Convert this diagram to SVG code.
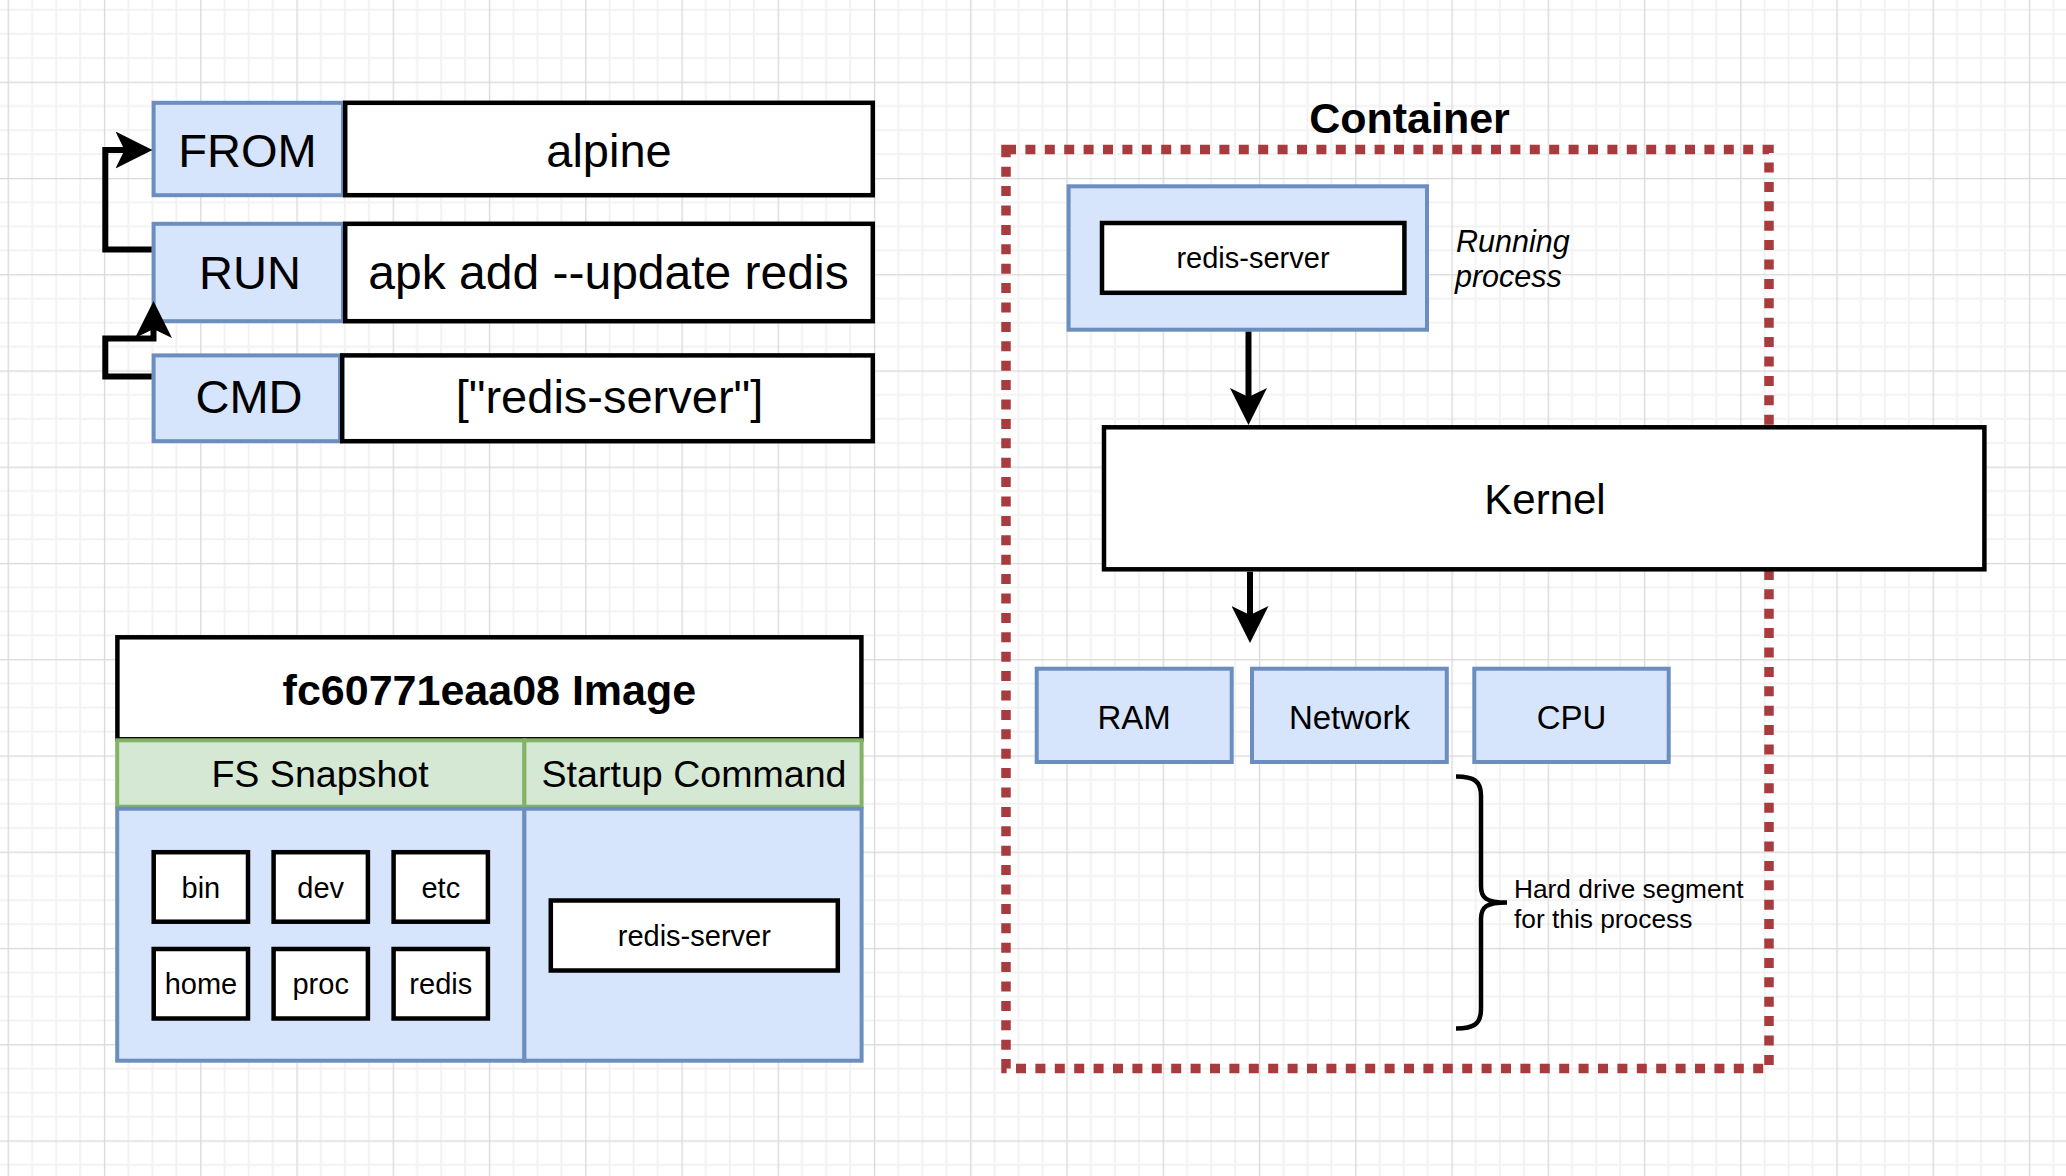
<svg xmlns="http://www.w3.org/2000/svg" width="2066" height="1176" viewBox="0 0 2066 1176">
<style>
text{font-family:"Liberation Sans",Arial,Helvetica,sans-serif;fill:#000}
.blue{fill:#d6e5fb;stroke:#6c8ebf;stroke-width:4}
.white{fill:#fff;stroke:#000;stroke-width:4.5}
.green{fill:#d5e8d4;stroke:#82b366;stroke-width:4}
.big{font-size:47px;text-anchor:middle}
.mid{font-size:37.6px;text-anchor:middle}
.sm{font-size:29px;text-anchor:middle}
.res{font-size:33px;text-anchor:middle}
.title{font-size:43px;font-weight:bold;text-anchor:middle}
.edge{fill:none;stroke:#000;stroke-width:6;stroke-linejoin:miter}
</style>
<defs>
<pattern id="grid" x="7.65" y="81.65" width="96.25" height="96.25" patternUnits="userSpaceOnUse">
<rect x="23.41" y="0" width="2" height="96.25" fill="#f2f2f2"/>
<rect x="47.47" y="0" width="2" height="96.25" fill="#f2f2f2"/>
<rect x="71.54" y="0" width="2" height="96.25" fill="#f2f2f2"/>
<rect x="0" y="23.41" width="96.25" height="2" fill="#f2f2f2"/>
<rect x="0" y="47.47" width="96.25" height="2" fill="#f2f2f2"/>
<rect x="0" y="71.54" width="96.25" height="2" fill="#f2f2f2"/>
<rect x="0" y="0" width="1.3" height="96.25" fill="#d9d9d9"/>
<rect x="0" y="0" width="96.25" height="1.3" fill="#d9d9d9"/>
</pattern>
<marker id="arrow" viewBox="0 0 37 37" refX="10" refY="18.5" markerWidth="37" markerHeight="37" markerUnits="userSpaceOnUse" orient="auto">
<path d="M0 0 L37 18.5 L0 37 L9 18.5 Z" fill="#000"/>
</marker>
</defs>
<rect width="2066" height="1176" fill="#fff"/>
<rect width="2066" height="1176" fill="url(#grid)"/>

<g id="dockerfile">
<g id="from">
<rect class="blue" x="153.6" y="102.8" width="189.4" height="92.4"/>
<rect class="white" x="345.2" y="102.8" width="527.6" height="92.4"/>
<text class="big" x="247.5" y="167">FROM</text>
<text class="big" x="609" y="167">alpine</text>
</g>
<g id="run">
<rect class="blue" x="153.6" y="223.8" width="189.4" height="97.4"/>
<rect class="white" x="345.2" y="223.8" width="527.6" height="97.4"/>
<text class="big" x="250" y="289">RUN</text>
<text class="big" x="608.5" y="288.5" style="font-size:48px">apk add --update redis</text>
</g>
<g id="cmd">
<rect class="blue" x="153.6" y="355.4" width="186.4" height="85.8"/>
<rect class="white" x="342.2" y="355.4" width="530.6" height="85.8"/>
<text class="big" x="249" y="413">CMD</text>
<text class="big" x="609.5" y="413">["redis-server"]</text>
</g>
</g>

<g id="image">
<g id="image-title">
<rect class="white" x="117.4" y="637.3" width="744" height="102"/>
<text class="title" x="489.4" y="705">fc60771eaa08 Image</text>
</g>
<g id="fs-snapshot">
<rect class="green" x="117.2" y="740.3" width="407.2" height="66.4"/>
<rect class="blue" x="117.2" y="808.7" width="407.2" height="252"/>
<text class="mid" x="320" y="786.7">FS Snapshot</text>
</g>
<g id="startup-command">
<rect class="green" x="524.4" y="740.3" width="337.2" height="66.4"/>
<rect class="blue" x="524.4" y="808.7" width="337.2" height="252"/>
<text class="mid" x="694" y="786.7">Startup Command</text>
</g>
<g id="dir-bin"><rect class="white" x="153.7" y="852.2" width="94.3" height="69.5"/><text class="sm" x="200.9" y="897.8">bin</text></g>
<g id="dir-dev"><rect class="white" x="273.6" y="852.2" width="94.3" height="69.5"/><text class="sm" x="320.7" y="897.8">dev</text></g>
<g id="dir-etc"><rect class="white" x="393.6" y="852.2" width="94.3" height="69.5"/><text class="sm" x="440.8" y="897.8">etc</text></g>
<g id="dir-home"><rect class="white" x="153.7" y="949" width="94.3" height="69.5"/><text class="sm" x="200.9" y="993.5">home</text></g>
<g id="dir-proc"><rect class="white" x="273.6" y="949" width="94.3" height="69.5"/><text class="sm" x="320.7" y="993.5">proc</text></g>
<g id="dir-redis"><rect class="white" x="393.6" y="949" width="94.3" height="69.5"/><text class="sm" x="440.8" y="993.5">redis</text></g>
<g id="startup-redis-server"><rect class="white" x="550.8" y="900.5" width="287" height="70"/><text class="sm" x="694.3" y="945.5">redis-server</text></g>
</g>

<g id="container">
<rect x="1006" y="149.5" width="763" height="919" fill="none" stroke="#a83b3d" stroke-width="9.5" stroke-dasharray="10 9.4"/>
<text class="title" x="1409.5" y="133.3">Container</text>
</g>
<g id="running-process">
<rect class="blue" x="1068.6" y="186.3" width="358.4" height="143.4"/>
<rect class="white" x="1102" y="223" width="302.4" height="69.8"/>
<text class="sm" x="1253" y="268.3">redis-server</text>
<text x="1456" y="252.3" font-size="30.5" font-style="italic">Running</text>
<text x="1455" y="287.3" font-size="30.5" font-style="italic">process</text>
</g>
<g id="kernel">
<rect class="white" x="1104" y="427.3" width="880.4" height="142"/>
<text x="1545" y="514" font-size="42" text-anchor="middle">Kernel</text>
</g>
<g id="ram"><rect class="blue" x="1036.7" y="668.7" width="195" height="93.3"/><text class="res" x="1134.2" y="729">RAM</text></g>
<g id="network"><rect class="blue" x="1252" y="668.7" width="194.8" height="93.3"/><text class="res" x="1349.4" y="729">Network</text></g>
<g id="cpu"><rect class="blue" x="1474.3" y="668.7" width="194.4" height="93.3"/><text class="res" x="1571.5" y="729">CPU</text></g>
<g id="hard-drive">
<path d="M1456 776.5 C1474 776.5 1481 781 1481 796 L1481 886 C1481 898 1486 902.5 1507 902.5 M1507 902.5 C1486 902.5 1481 907 1481 919 L1481 1009 C1481 1024 1474 1028.5 1456 1028.5" fill="none" stroke="#000" stroke-width="4.5"/>
<text x="1514" y="897.5" font-size="26.3">Hard drive segment</text>
<text x="1514" y="927.5" font-size="26.3">for this process</text>
</g>

<g id="connectors">
<path class="edge" d="M151.6 249.5 L105.3 249.5 L105.3 150 L125.5 150" marker-end="url(#arrow)"/>
<path class="edge" d="M151.6 376.5 L105.3 376.5 L105.3 338.5 L153.5 338.5 L153.5 328" marker-end="url(#arrow)"/>
<path class="edge" d="M1248.5 331.7 L1248.5 398" marker-end="url(#arrow)"/>
<path class="edge" d="M1250 571.7 L1250 616" marker-end="url(#arrow)"/>
</g>
</svg>
